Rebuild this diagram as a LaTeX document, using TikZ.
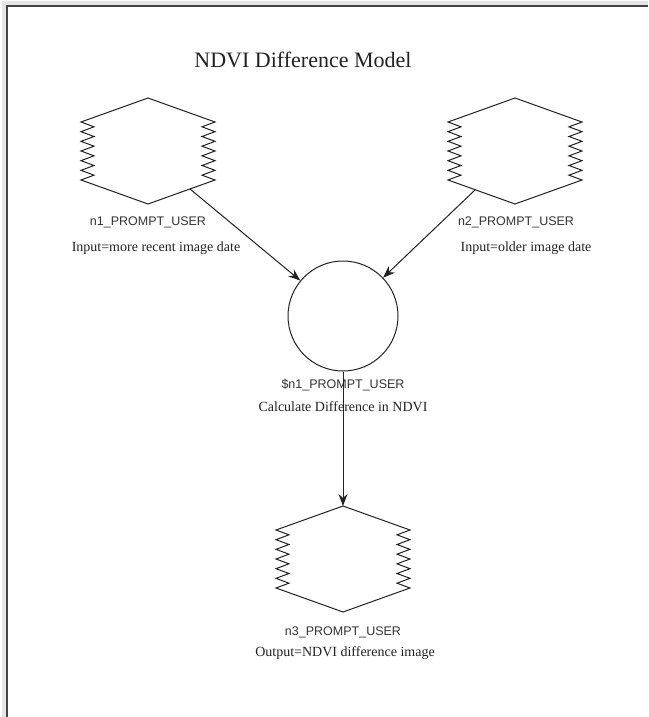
\documentclass[tikz,border=0pt]{standalone}
\usepackage{fontspec}
\setmainfont{Liberation Serif}
\newfontfamily\uisans{Liberation Sans}
\usetikzlibrary{arrows.meta}

\definecolor{framegray}{HTML}{444444}
\definecolor{inkgray}{HTML}{222222}

\tikzset{
  frameline/.style={draw=framegray, line width=2pt},
  frameshadow/.style={draw=black!10, line width=5pt},
  shapeline/.style={draw=inkgray, line width=1pt, line join=miter},
  idlabel/.style={font=\uisans\fontsize{12.5}{14}\selectfont, text=black!80, inner sep=0pt},
  desclabel/.style={font=\fontsize{14}{16}\selectfont, text=inkgray, inner sep=0pt},
  titlelabel/.style={font=\fontsize{22}{25}\selectfont, text=inkgray, inner sep=0pt},
  procnode/.style={circle, shapeline, minimum size=110pt, inner sep=0pt},
  flow/.style={draw=inkgray, line width=1pt,
    -{Stealth[length=12pt, width=9pt, inset=4pt]}},
  % hexagon with saw-toothed left and right sides, centred on the pic origin
  zighex/.pic={
    \draw[shapeline] (0,-53) -- (67,-29)
      \foreach \i in {1,...,6} { -- (54,{-29+(\i-0.5)*58/6}) -- (67,{-29+\i*58/6}) }
      -- (0,53) -- (-67,29)
      \foreach \i in {1,...,6} { -- (-54,{29-(\i-0.5)*58/6}) -- (-67,{29-\i*58/6}) }
      -- cycle;
  }
}

\begin{document}
\begin{tikzpicture}[x=1pt, y=-1pt]
  \useasboundingbox (0,0) rectangle (648,717);
  \fill[white] (0,0) rectangle (648,717);

  % window frame (top and left edges)
  \draw[frameshadow] (4,717) -- (4,4) -- (648,4);
  \draw[frameline] (6.5,717) -- (6.5,6.5) -- (648,6.5);

  % title
  \node[titlelabel] (title) at (303,60) {NDVI Difference Model};

  % input 1
  \coordinate (hexA) at (148,151);
  \pic at (hexA) {zighex};
  \node[idlabel] (hexAid) at (148,222) {n1\_PROMPT\_USER};
  \node[desclabel] (hexAdesc) at (156,248) {Input=more recent image date};
  \coordinate (hexAout) at (190,189);

  % input 2
  \coordinate (hexB) at (515,151);
  \pic at (hexB) {zighex};
  \node[idlabel] (hexBid) at (516,222) {n2\_PROMPT\_USER};
  \node[desclabel] (hexBdesc) at (526,248) {Input=older image date};
  \coordinate (hexBout) at (475,190);

  % difference function
  \node[procnode] (calc) at (343,316) {};
  \node[idlabel] (calcid) at (343,385) {\$n1\_PROMPT\_USER};
  \node[desclabel] (calcdesc) at (343,407) {Calculate Difference in NDVI};

  % output
  \coordinate (hexC) at (343,559);
  \pic at (hexC) {zighex};
  \coordinate (hexCin) at (343,506);
  \node[idlabel] (hexCid) at (343,632) {n3\_PROMPT\_USER};
  \node[desclabel] (hexCdesc) at (345,653) {Output=NDVI difference image};

  % connectors
  \draw[flow] (hexAout) -- (calc);
  \draw[flow] (hexBout) -- (calc);
  \draw[flow] (calc.south) -- (hexCin);
\end{tikzpicture}
\end{document}
